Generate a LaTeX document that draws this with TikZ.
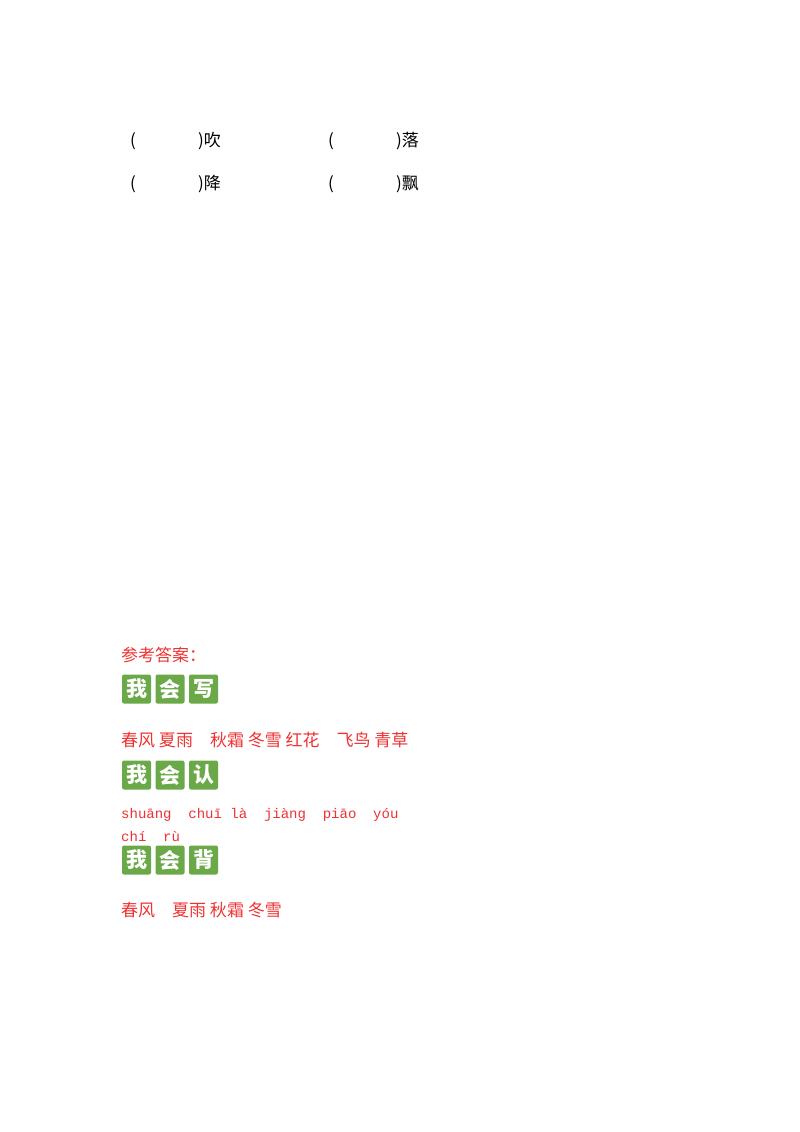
\documentclass[tikz,border=0pt]{standalone}
\usepackage{fontspec}
\newfontfamily\cjk{Noto Sans CJK SC}
\newfontfamily\mono{Liberation Mono}
\definecolor{ans}{RGB}{238,50,50}
\definecolor{badge}{RGB}{106,168,72}
\begin{document}
\begin{tikzpicture}[x=1pt,y=-1pt,
  t/.style={anchor=west,inner sep=0,font=\cjk\fontsize{17}{17}\selectfont},
  a/.style={t,text=ans},
  py/.style={anchor=west,inner sep=0,text=ans,font=\mono\fontsize{14}{14}\selectfont},
  bd/.style={fill=badge,rounded corners=2pt,minimum size=29pt,inner sep=0,text=white,font=\cjk\bfseries\fontsize{21}{21}\selectfont}]
\useasboundingbox[fill=white] (0,0) rectangle (800,1132);
\node[t] (l1a) at (130,141) {(};
\node[t] (l1b) at (198,141) {)吹};
\node[t] (l1c) at (328,141) {(};
\node[t] (l1d) at (396,141) {)落};
\node[t] (l2a) at (130,184) {(};
\node[t] (l2b) at (198,184) {)降};
\node[t] (l2c) at (328,184) {(};
\node[t] (l2d) at (396,184) {)飘};
\node[a] (h) at (121,655) {参考答案：};
\foreach \y/\c/\n in {689/写/b1,775/认/b2,860/背/b3}{
  \node[bd] (\n x) at (136.5,\y) {我};
  \node[bd] (\n y) at (170,\y) {会};
  \node[bd] (\n z) at (203.5,\y) {\c};
}
\node[a] (r1) at (121,740) {春风\ 夏雨\quad 秋霜\ 冬雪\ 红花\quad 飞鸟\ 青草};
\node[py] (p1) at (121,815) {shuāng\ \ chuī\ là\ \ jiàng\ \ piāo\ \ yóu};
\node[py] (p2) at (121,836) {chí\ \ rù};
\node[a] (r3) at (121,910) {春风\quad 夏雨\ 秋霜\ 冬雪};
\end{tikzpicture}
\end{document}
